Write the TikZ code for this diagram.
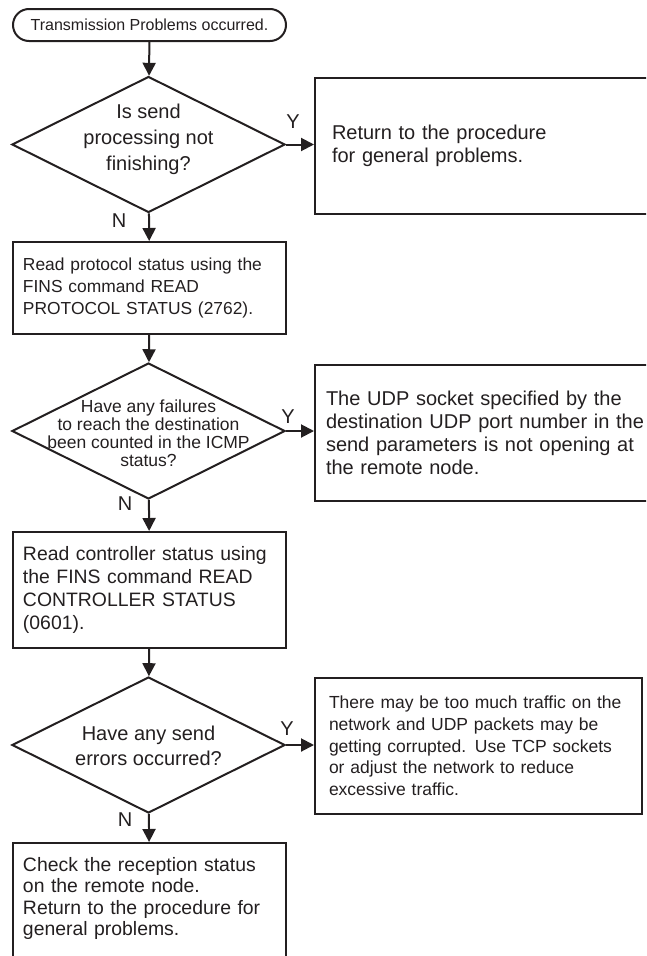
\documentclass[tikz,border=0pt]{standalone}
\usepackage{fontspec}
\setmainfont{Liberation Sans}
\usepackage{tikz}
\usetikzlibrary{shapes.geometric,arrows.meta}
\definecolor{tinta}{HTML}{231F20}

\begin{document}
\begin{tikzpicture}[x=1pt, y=-1pt, line width=2pt, color=tinta,
		>={Triangle[length=13pt,width=13pt]},
		startstop/.style={draw, rounded corners=16pt, inner sep=0pt, minimum width=273pt, minimum height=32pt, font=\fontsize{16}{18}\selectfont},
		decision/.style={draw, diamond, inner sep=0pt, minimum width=273pt, minimum height=136pt},
		asktext/.style={align=center, inner sep=0pt},
		procbox/.style={draw, inner ysep=0pt, align=left, font=\fontsize{20}{23}\selectfont},
		yn/.style={inner sep=0pt, font=\fontsize{20}{24}\selectfont}]
			% Marco del dibujo
			\path[use as bounding box, clip] (0,0) rectangle (646,956);
			
			% Inicio
			\node[startstop, anchor=north west] (start) at (12,8) {Transmission Problems occurred.};
			
			% Primera pregunta y su respuesta Y
			\node[decision] (q1) at (148.5,144.5) {};
			\node[asktext, font=\fontsize{20}{26}\selectfont] (q1text) at (148.5,139) {Is send\\processing not\\finishing?};
			\node[procbox, anchor=north west, inner xsep=17pt, text width=312pt, minimum height=136pt] (general) at (314,77) {Return to the procedure\\for general problems.};
			
			% Estado del protocolo
			\node[procbox, anchor=north west, inner xsep=10pt, text width=253pt, minimum height=92pt, font=\fontsize{17.4}{21.7}\selectfont] (proto) at (12,241) {Read protocol status using the\\FINS command READ\\PROTOCOL STATUS (2762).};
			
			% Segunda pregunta
			\node[decision] (q2) at (148.5,431) {};
			\node[asktext, font=\fontsize{17.5}{18}\selectfont] (q2text) at (148.5,433) {Have any failures\\to reach the destination\\been counted in the ICMP\\status?};
			\node[procbox, anchor=north west, inner xsep=11pt, text width=324pt, minimum height=136pt] (udp) at (314,364) {The UDP socket specified by the\\destination UDP port number in the\\send parameters is not opening at\\the remote node.};
			
			% Estado del controlador
			\node[procbox, anchor=north west, inner xsep=10pt, text width=253pt, minimum height=116pt, font=\fontsize{19.4}{23}\selectfont] (ctrl) at (12,531) {Read controller status using\\the FINS command READ\\CONTROLLER STATUS\\(0601).};
			
			% Tercera pregunta
			\node[decision] (q3) at (148.5,745) {};
			\node[asktext, font=\fontsize{20}{25}\selectfont] (q3text) at (148.5,746) {Have any send\\errors occurred?};
			\node[procbox, anchor=north west, inner xsep=14pt, text width=299pt, minimum height=136pt, font=\fontsize{17.5}{21.7}\selectfont] (traffic) at (314,677) {There may be too much traffic on the\\network and UDP packets may be\\getting corrupted. Use TCP sockets\\or adjust the network to reduce\\excessive traffic.};
			
			% Final
			\node[procbox, anchor=north west, inner xsep=10pt, inner ysep=13pt, text width=253pt, text height=15pt, text depth=95pt, font=\fontsize{19.4}{21.5}\selectfont] (check) at (12,842) {Check the reception status\\on the remote node.\\Return to the procedure for\\general problems.};
			
			% Etiquetas Y / N
			\node[yn] (y1) at (293,122) {Y};
			\node[yn] (n1) at (119,221) {N};
			\node[yn] (y2) at (288,417) {Y};
			\node[yn] (n2) at (125,504) {N};
			\node[yn] (y3) at (287,729) {Y};
			\node[yn] (n3) at (125,820) {N};
			
			% Flechas
			\draw[->] (start) -- (q1);
			\draw[->] (q1) -- (proto);
			\draw[->] (proto) -- (q2);
			\draw[->] (q2) -- (ctrl);
			\draw[->] (ctrl) -- (q3);
			\draw[->] (q3) -- (check);
			\draw[->] (q1.east) -- (q1.east -| general.west);
			\draw[->] (q2.east) -- (q2.east -| udp.west);
			\draw[->] (q3.east) -- (q3.east -| traffic.west);
			
		\end{tikzpicture}
\end{document}
